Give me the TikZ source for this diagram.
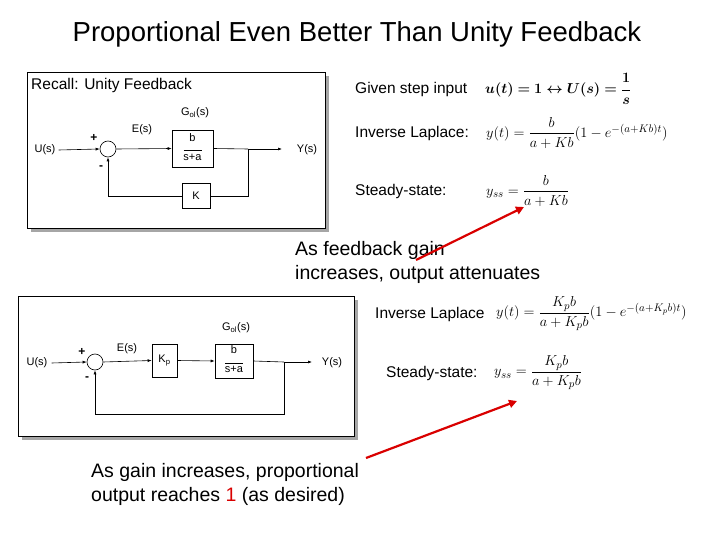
\documentclass[tikz,border=0pt]{standalone}
\usepackage{amsmath,bm}
\usepackage{fontspec}
\setmainfont{Liberation Sans}
\usetikzlibrary{arrows.meta}
\begin{document}
\begin{tikzpicture}[x=1pt,y=-1pt,
  lbl/.style={font=\fontsize{11}{12}\selectfont,inner sep=0pt},
  blk/.style={draw,fill=white,line width=0.6pt,font=\fontsize{11}{12}\selectfont,inner sep=0pt},
  sig/.style={line width=0.6pt},
  sigarr/.style={line width=0.6pt,-{Latex[length=4pt,width=3pt]}},
  txt/.style={font=\fontsize{15.5}{18}\selectfont,inner sep=0pt,anchor=west},
  mth/.style={font=\fontsize{15.5}{18}\selectfont,inner sep=0pt,anchor=west},
  big/.style={font=\fontsize{19.5}{24}\selectfont,inner sep=0pt,anchor=west,align=left},
  redarr/.style={draw=red!85!black,line width=2.2pt,-{Triangle[length=8pt,width=8pt]}}]
\useasboundingbox (0,0) rectangle (720,540);
\node[font=\fontsize{27.5}{32}\selectfont] (title) at (357,34) {Proportional Even Better Than Unity Feedback};
% top frame
\fill[gray!70] (31,76) rectangle (329,232);
\draw[fill=white,line width=0.8pt] (27,72) rectangle (325,228);
\node[txt] (recall) at (31,85) {Recall: Unity Feedback};
\node[draw,circle,minimum size=16pt,inner sep=0pt,line width=0.6pt] (s1) at (108,149) {};
\node[lbl] (u1) at (45,150) {U(s)};
\node[blk,minimum width=41pt,minimum height=37pt] (g1) at (192.5,148.5) {\begin{tabular}{@{}c@{}}b\\[-3pt]\rule{18pt}{0.4pt}\\[-2pt]s+a\end{tabular}};
\node[blk,minimum width=28pt,minimum height=25pt] (k1) at (196,196) {K};
\node[lbl] (y1) at (307,150) {Y(s)};
\node[lbl] (e1) at (142,130) {E(s)};
\node[lbl] (gl1) at (195,113) {G$_{\rm ol}$(s)};
\node[lbl,font=\bfseries\fontsize{12}{12}\selectfont] (p1) at (94,138) {+};
\node[lbl,font=\bfseries\fontsize{12}{12}\selectfont] (m1) at (101,168) {-};
\coordinate (b1) at (248,149);
\coordinate (o1) at (282,149);
\draw[sigarr] (u1.east)++(3,0) -- (s1.west);
\draw[sigarr] (s1.east) -- (g1.west);
\draw[sig] (g1.east) -- (b1);
\draw[sigarr] (b1) -- (o1);
\draw[sig] (b1) |- (k1.east);
\draw[sigarr] (k1.west) -| (s1.south);
% top equations
\node[txt] (gs) at (355,89) {Given step input};
\node[mth] (eq1) at (485,89) {$\bm{u(t)=1\leftrightarrow U(s)=\dfrac{1}{s}}$};
\node[txt] (il1) at (355,133) {Inverse Laplace:};
\node[mth] (eq2) at (486,133) {$y(t)=\dfrac{b}{a+Kb}(1-e^{-(a+Kb)t})$};
\node[txt] (ss1) at (355,191) {Steady-state:};
\node[mth] (eq3) at (486,191) {$y_{ss}=\dfrac{b}{a+Kb}$};
\node[big] (fb) at (295,262) {As feedback gain\\increases, output attenuates};
\coordinate (r1a) at (416,260);
\coordinate (r1b) at (524,207);
\draw[redarr] (r1a) -- (r1b);
% bottom frame
\fill[gray!70] (22,300) rectangle (358,440);
\draw[fill=white,line width=0.8pt] (18,296) rectangle (354,436);
\node[draw,circle,minimum size=16pt,inner sep=0pt,line width=0.6pt] (s2) at (95,362) {};
\node[lbl] (u2) at (37,363) {U(s)};
\node[blk,minimum width=25pt,minimum height=33pt] (kp) at (164.5,360.5) {K$_{\rm p}$};
\node[blk,minimum width=38pt,minimum height=34pt] (g2) at (234,361) {\begin{tabular}{@{}c@{}}b\\[-3pt]\rule{18pt}{0.4pt}\\[-2pt]s+a\end{tabular}};
\node[lbl] (y2) at (332,363) {Y(s)};
\node[lbl] (e2) at (127,349) {E(s)};
\node[lbl] (gl2) at (236,328) {G$_{\rm ol}$(s)};
\node[lbl,font=\bfseries\fontsize{12}{12}\selectfont] (p2) at (82,352) {+};
\node[lbl,font=\bfseries\fontsize{12}{12}\selectfont] (m2) at (87,379) {-};
\coordinate (b2) at (284,362);
\coordinate (o2) at (312,362);
\coordinate (f2) at (284,414);
\draw[sigarr] (u2.east)++(4,0) -- (s2.west);
\draw[sigarr] (s2.east) -- (kp.west);
\draw[sigarr] (kp.east) -- (g2.west);
\draw[sig] (g2.east) -- (b2);
\draw[sigarr] (b2) -- (o2);
\draw[sigarr] (b2) -- (f2) -| (s2.south);
% bottom equations
\node[txt] (il2) at (375,314) {Inverse Laplace};
\node[mth] (eq4) at (496,314) {$y(t)=\dfrac{K_pb}{a+K_pb}(1-e^{-(a+K_pb)t})$};
\node[txt] (ss2) at (386,373) {Steady-state:};
\node[mth] (eq5) at (494,373) {$y_{ss}=\dfrac{K_pb}{a+K_pb}$};
\coordinate (r2a) at (366,458);
\coordinate (r2b) at (517,401);
\draw[redarr] (r2a) -- (r2b);
\node[big] (gi) at (91,484) {As gain increases, proportional\\output reaches {\color{red!85!black}1} (as desired)};
\end{tikzpicture}
\end{document}
